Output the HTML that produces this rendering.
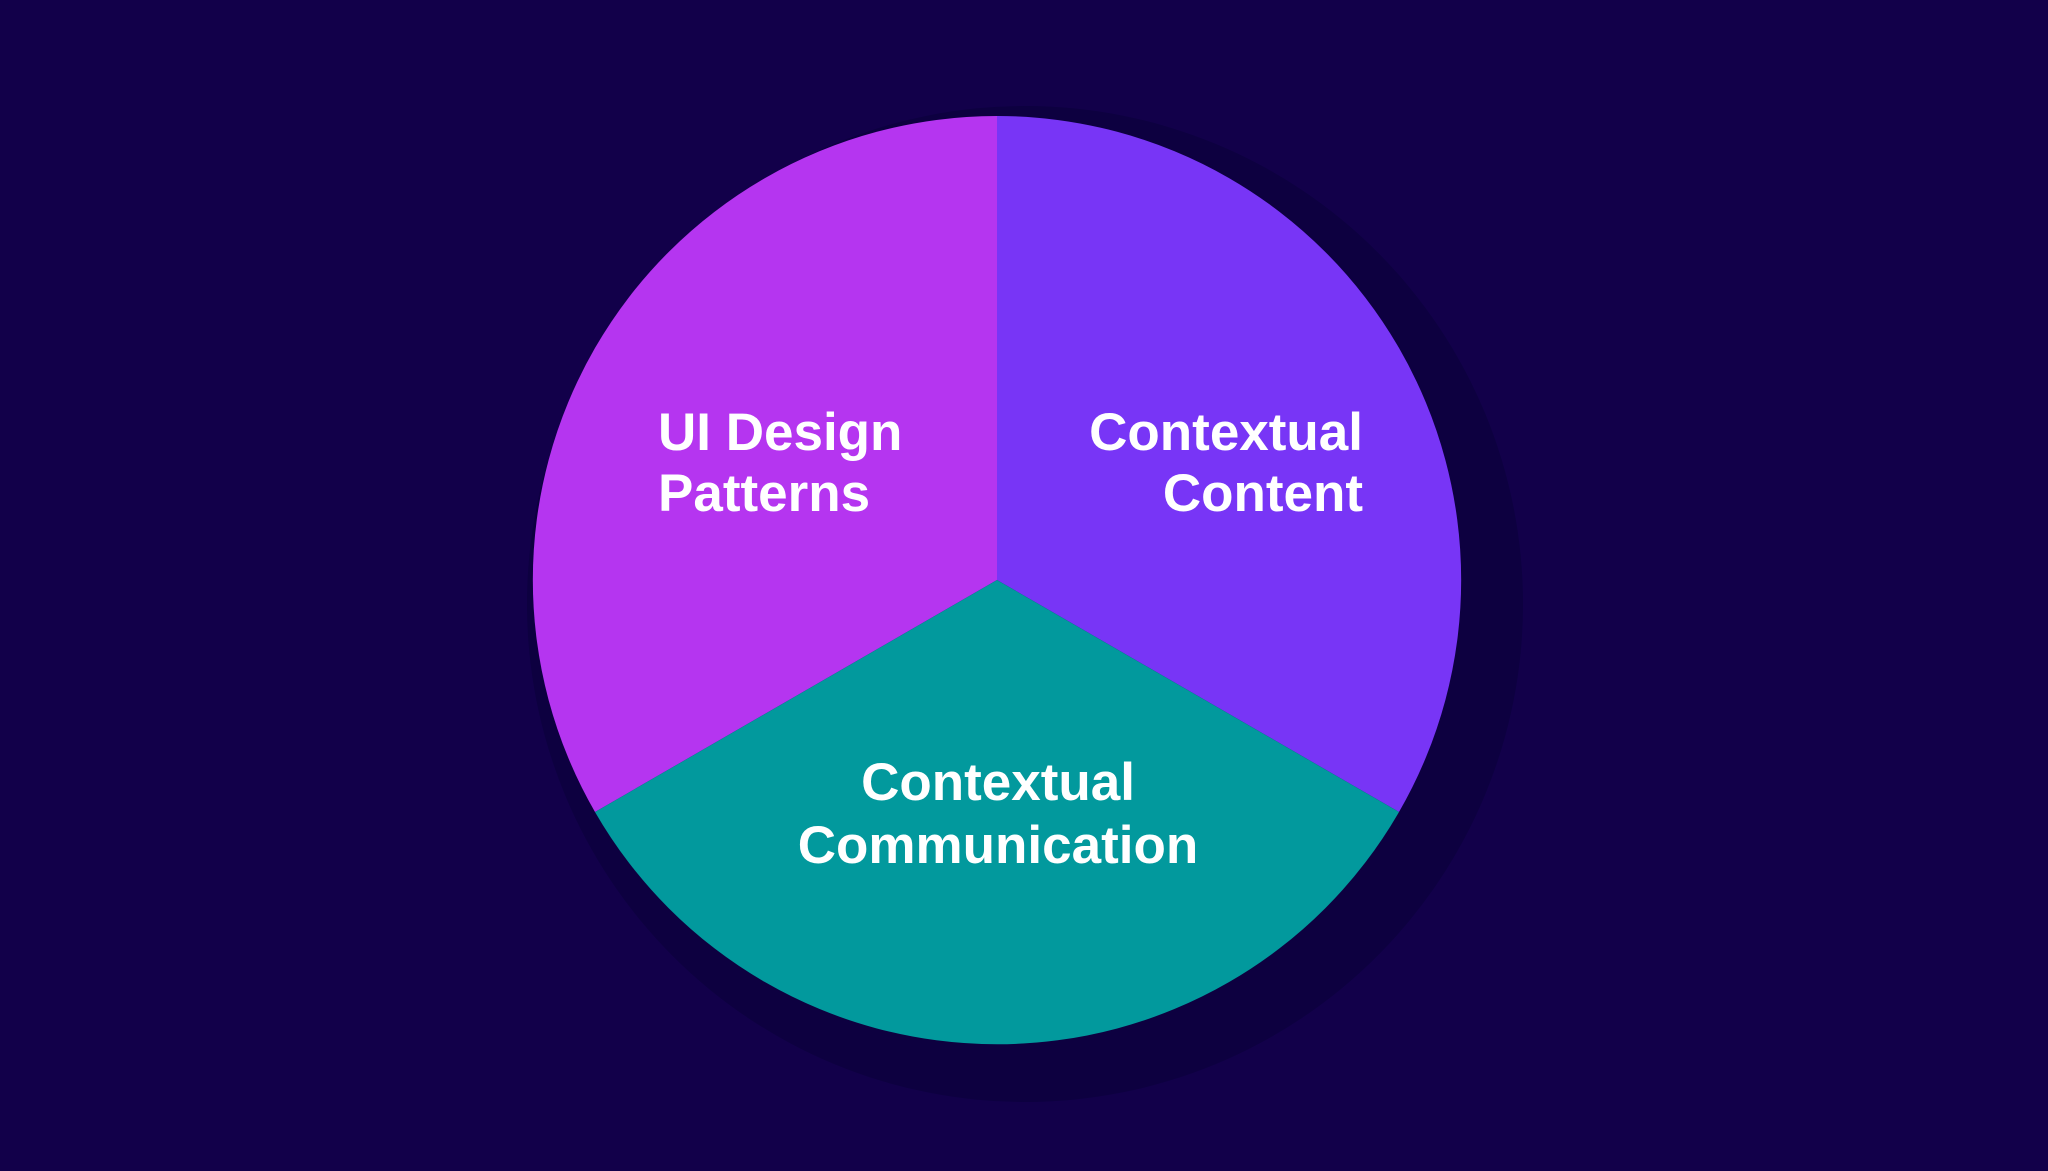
<!DOCTYPE html>
<html><head><meta charset="utf-8"><style>
html,body{margin:0;padding:0;background:#12004a;}
svg{display:block}
</style></head><body>
<svg width="2048" height="1171" viewBox="0 0 2048 1171" xmlns="http://www.w3.org/2000/svg">
<rect width="2048" height="1171" fill="#12004a"/>
<circle cx="1025" cy="604" r="498" fill="#0d0040"/>
<path d="M997 580 L997 116 A464 464 0 0 0 595 812 Z" fill="#b535f0"/>
<path d="M997 580 L997 116 A464 464 0 0 1 1399 812 Z" fill="#7835f6"/>
<path d="M997 580 L1399 812 A464 464 0 0 1 595 812 Z" fill="#02999d"/>
<g font-family="Liberation Sans, Arial, sans-serif" font-weight="bold" font-size="53" fill="#ffffff">
<text x="658" y="450">UI Design</text>
<text x="658" y="511">Patterns</text>
<text x="1363" y="450" text-anchor="end">Contextual</text>
<text x="1363" y="511" text-anchor="end">Content</text>
<text x="998" y="800" text-anchor="middle">Contextual</text>
<text x="998" y="863" text-anchor="middle">Communication</text>
</g>
</svg>
</body></html>
